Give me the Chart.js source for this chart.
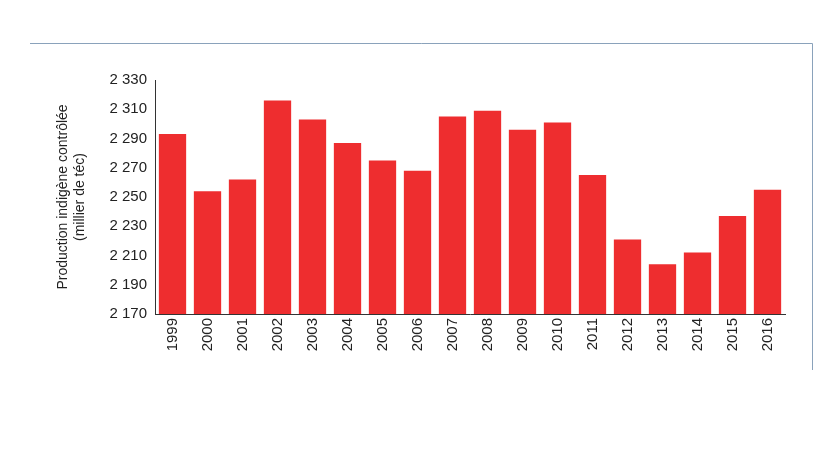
<!DOCTYPE html>
<html>
<head>
<script src="https://cdn.jsdelivr.net/npm/chart.js@4"></script>
<style>body{margin:0;background:#fff}#wrap{width:820px;height:461px}</style>
</head>
<body>
<div id="wrap"><canvas id="c"></canvas></div>
<script>
const years = ['1999','2000','2001','2002','2003','2004','2005','2006','2007','2008','2009','2010','2011','2012','2013','2014','2015','2016'];
const production = [2293,2254,2262,2316,2303,2287,2275,2268,2305,2309,2296,2301,2265,2221,2204,2212,2237,2255];
const yTicks = [2170,2190,2210,2230,2250,2270,2290,2310,2330];

const frame = {
  id: 'frame',
  afterDraw(chart) {
    const ctx = chart.ctx;
    ctx.save();
    ctx.strokeStyle = '#8aa2bb';
    ctx.lineWidth = 1;
    ctx.beginPath();
    ctx.moveTo(30, 43.5); ctx.lineTo(812.5, 43.5); ctx.lineTo(812.5, 370);
    ctx.stroke();
    ctx.restore();
  }
};

Chart.defaults.font.family = '"Liberation Sans", Arial, sans-serif';
Chart.defaults.color = '#222';

new Chart(document.getElementById('c'), {
  type: 'bar',
  data: { labels: years, datasets: [{ data: production, backgroundColor: '#ee2d2f', barPercentage: 0.78, categoryPercentage: 1 }] },
  options: {
    responsive: true, maintainAspectRatio: false, animation: false,
    layout: { padding: { top: 80, right: 35, left: 55, bottom: 0 } },
    plugins: { legend: { display: false }, tooltip: { enabled: false } },
    scales: {
      x: {
        grid: { display: false, drawTicks: false },
        border: { color: '#333' },
        ticks: { font: { size: 15 }, maxRotation: 90, minRotation: 90, padding: 4 },
        afterFit(s) { s.height = 147; }
      },
      y: {
        min: 2170, max: 2330,
        afterBuildTicks(s) { s.ticks = yTicks.map(v => ({ value: v })); },
        grid: { display: false, drawTicks: true, tickLength: 5, tickColor: '#333' },
        border: { color: '#333' },
        ticks: { font: { size: 15 }, padding: 3, callback: v => String(v).replace(/(\d)(\d{3})$/, '$1 $2') },
        title: { display: true, text: ['Production indigène contrôlée', '(millier de téc)'], font: { size: 14 }, padding: 0 },
        afterFit(s) { s.width = 100; }
      }
    }
  },
  plugins: [frame]
});
</script>
</body>
</html>
